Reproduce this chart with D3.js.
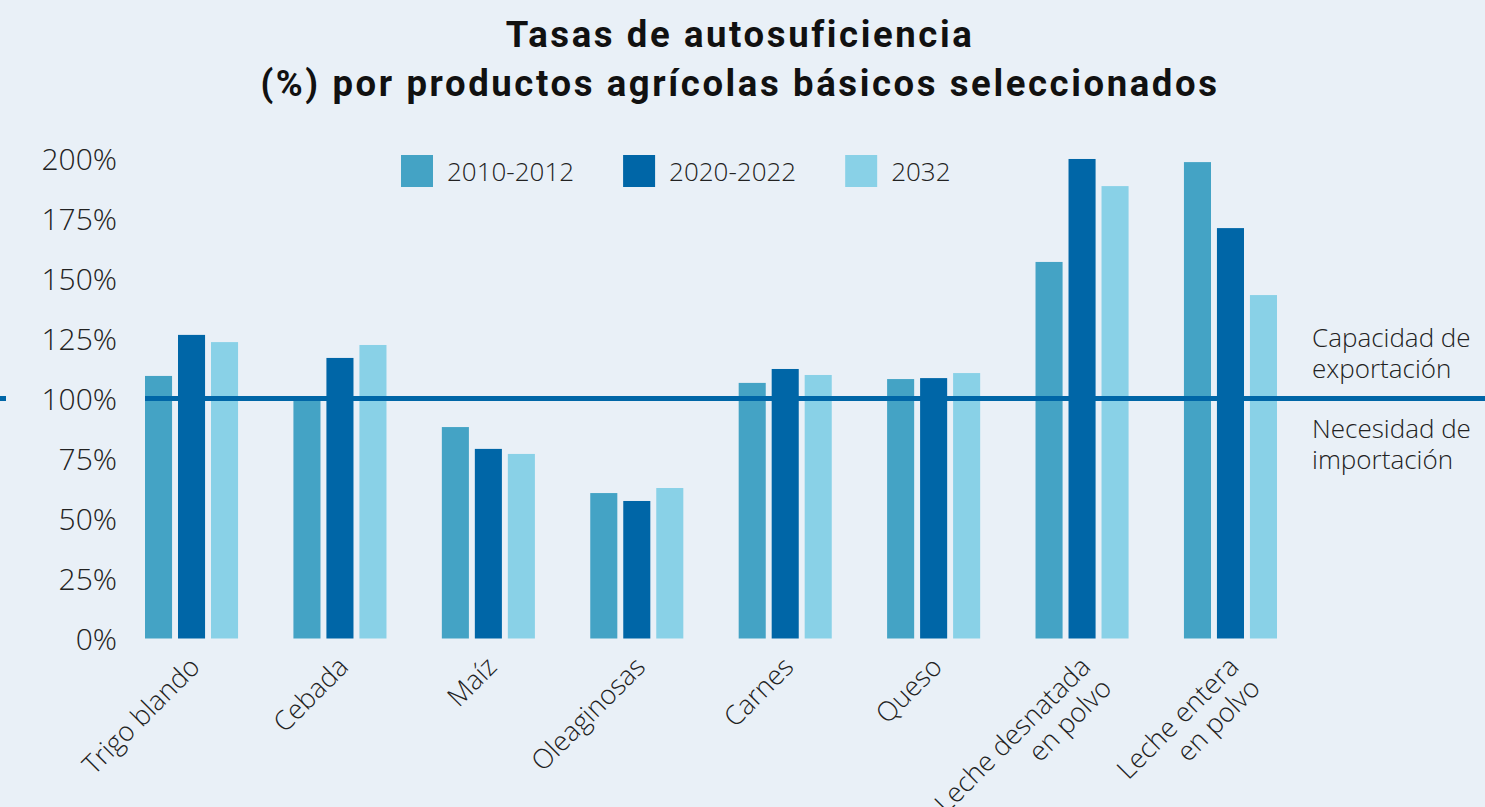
<!DOCTYPE html>
<html>
<head>
<meta charset="utf-8">
<script src="https://cdn.jsdelivr.net/npm/d3@7/dist/d3.min.js"></script>
<style>
  html, body { margin: 0; padding: 0; background: #e9f0f7; }
  svg { display: block; }
  .light { font-family: "Open Sans", "Lato", sans-serif; font-weight: 300; fill: #222; }
</style>
</head>
<body>
<svg id="chart" width="1485" height="807"></svg>
<script>
const categories = [
  ["Trigo blando"], ["Cebada"], ["Maíz"], ["Oleaginosas"], ["Carnes"], ["Queso"],
  ["Leche desnatada", "en polvo"], ["Leche entera", "en polvo"]
];
const seriesNames = ["2010-2012", "2020-2022", "2032"];
const values2010 = [109.4, 101.0, 88.1, 60.6, 106.5, 108.1, 156.9, 198.5];
const values2020 = [126.5, 116.9, 79.0, 57.3, 112.3, 108.5, 199.8, 171.0];
const values2032 = [123.5, 122.3, 76.9, 62.7, 109.8, 110.6, 188.5, 143.1];
const yTicks = [0, 25, 50, 75, 100, 125, 150, 175, 200];
const refValue = 100;
const titleLines = ["Tasas de autosuficiencia", "(%) por productos agrícolas básicos seleccionados"];
const noteAbove = ["Capacidad de", "exportación"];
const noteBelow = ["Necesidad de", "importación"];
const colors = ["#44a3c5", "#0066a7", "#89d1e7"];

const seriesValues = [values2010, values2020, values2032];
const catKeys = categories.map(c => c.join(" "));

const svg = d3.select("#chart");
svg.append("rect").attr("width", 1485).attr("height", 807).attr("fill", "#e9f0f7");

const x0 = d3.scaleBand().domain(catKeys).range([145, 1277]).paddingInner(0.373).paddingOuter(0);
const x1 = d3.scaleBand().domain(seriesNames).range([0, x0.bandwidth()]).paddingInner(0.18).paddingOuter(0);
const y = d3.scaleLinear().domain([0, 200]).range([638.5, 158.5]);

// Title
const title = svg.append("text")
  .attr("x", 740).attr("text-anchor", "middle")
  .style("font-family", "Roboto, 'DejaVu Sans', sans-serif")
  .style("font-weight", 700).style("font-size", "36.5px")
  .style("letter-spacing", "2.6px").attr("fill", "#111");
titleLines.forEach((t, i) => {
  title.append("tspan").attr("x", 740).attr("y", 47 + i * 49).text(t);
});

// Y axis
const yAxis = d3.axisLeft(y).tickValues(yTicks).tickFormat(d => d + "%").tickSize(0).tickPadding(0);
const yg = svg.append("g").attr("transform", "translate(117,0)").call(yAxis);
yg.select(".domain").remove();
yg.selectAll("text").attr("class", "light").style("font-size", "30px").attr("dy", "0.35em").attr("fill", "#222");

// Bars
const groups = svg.append("g").selectAll("g").data(catKeys).join("g")
  .attr("transform", d => `translate(${x0(d)},0)`);
groups.selectAll("rect")
  .data((d, i) => seriesNames.map((s, j) => ({ s, v: seriesValues[j][i], j })))
  .join("rect")
  .attr("x", d => x1(d.s))
  .attr("width", x1.bandwidth())
  .attr("y", d => y(d.v))
  .attr("height", d => y(0) - y(d.v))
  .attr("fill", d => colors[d.j]);

// Reference line
svg.append("line").attr("x1", 145).attr("x2", 1485).attr("y1", y(refValue)).attr("y2", y(refValue))
  .attr("stroke", "#0066a7").attr("stroke-width", 5);
svg.append("line").attr("x1", 0).attr("x2", 6).attr("y1", y(refValue)).attr("y2", y(refValue))
  .attr("stroke", "#0066a7").attr("stroke-width", 5);

// X labels
const xAxis = d3.axisBottom(x0).tickSize(0).tickFormat("");
const xg = svg.append("g").attr("transform", `translate(0,${y(0)})`).call(xAxis);
xg.select(".domain").remove();
categories.forEach((lines, i) => {
  const cx = x0(catKeys[i]) + x0.bandwidth() / 2 + 10;
  const t = svg.append("text").attr("class", "light")
    .attr("text-anchor", "end").style("font-size", "27px")
    .attr("transform", `translate(${cx},${y(0) + 30}) rotate(-45)`);
  lines.forEach((l, k) => {
    t.append("tspan").attr("x", 0).attr("y", k * 30).text(l);
  });
});

// Legend
let lx = 401;
seriesNames.forEach((s, i) => {
  svg.append("rect").attr("x", lx).attr("y", 155).attr("width", 32).attr("height", 32).attr("fill", colors[i]);
  const t = svg.append("text").attr("class", "light").attr("x", lx + 46).attr("y", 181)
    .style("font-size", "26px").text(s);
  lx = lx + 46 + t.node().getComputedTextLength() + 49;
});

// Notes
[[noteAbove, 347], [noteBelow, 438]].forEach(([lines, by]) => {
  const t = svg.append("text").attr("class", "light").style("font-size", "26px");
  lines.forEach((l, i) => {
    t.append("tspan").attr("x", 1312).attr("y", by + i * 31).text(l);
  });
});
</script>
</body>
</html>
